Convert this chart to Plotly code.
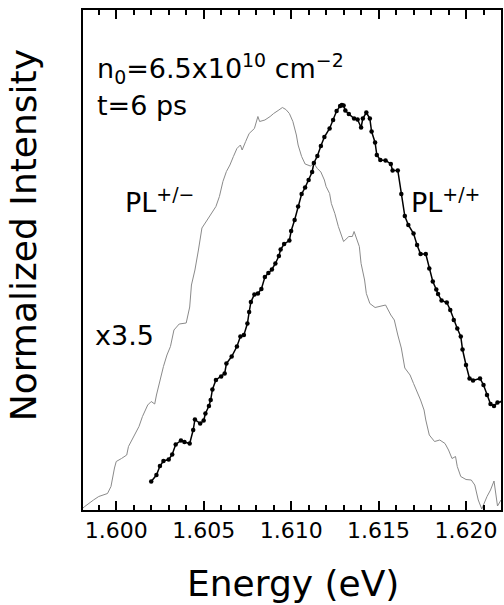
import plotly.graph_objects as go

# PL+/+ spectrum (black, with dots)
e_pp = [1.6020,1.6023,1.6025,1.6027,1.6030,1.6032,1.6034,1.6037,1.6039,1.6042,
        1.6044,1.6045,1.6048,1.6050,1.6051,1.6053,1.6054,1.6055,1.6057,1.6060,
        1.6062,1.6063,1.6066,1.6069,1.6071,1.6073,1.6075,1.6076,1.6077,1.6079,
        1.6081,1.6083,1.6085,1.6087,1.6089,1.6091,1.6093,1.6094,1.6096,1.6099,
        1.6100,1.6102,1.6104,1.6106,1.6108,1.6110,1.6112,1.6113,1.6115,1.6117,
        1.6119,1.6122,1.6124,1.6126,1.6128,1.6129,1.6130,1.6131,1.6133,1.6136,
        1.6138,1.6140,1.6141,1.6143,1.6145,1.6146,1.6148,1.6149,1.6151,1.6154,
        1.6157,1.6158,1.6161,1.6163,1.6165,1.6167,1.6170,1.6172,1.6174,1.6177,
        1.6179,1.6181,1.6183,1.6184,1.6186,1.6189,1.6191,1.6193,1.6195,1.6197,
        1.6198,1.6200,1.6202,1.6204,1.6208,1.6210,1.6212,1.6214,1.6216,1.6218,
        1.6221]
i_pp = [5.7,7.0,8.8,9.8,10.1,11.1,13.1,13.9,13.6,13.3,
        16.0,18.1,17.3,17.9,19.3,20.8,22.0,24.1,26.0,26.7,
        27.3,29.3,30.7,32.7,34.7,35.0,37.3,39.6,41.6,43.1,
        43.3,44.2,46.6,47.4,48.1,49.3,50.8,52.1,53.2,53.9,
        55.8,58.0,60.7,63.2,64.5,66.0,67.6,69.4,70.8,72.8,
        74.6,76.3,78.0,79.8,80.8,81.0,80.9,79.9,79.2,78.3,
        78.1,76.5,78.3,79.5,78.3,75.7,73.5,71.0,70.0,69.9,
        69.2,67.9,67.9,63.2,58.8,57.0,55.3,53.0,51.2,51.2,
        48.3,45.7,44.1,43.2,41.9,41.5,40.0,38.0,36.3,34.7,
        32.1,29.0,26.3,25.9,26.3,25.0,23.0,21.2,20.8,21.5,
        21.7]

# PL+/- spectrum (grey, x3.5)
e_pm = [1.5981,1.5982,1.5987,1.5990,1.5995,1.5997,1.5999,1.6000,1.6003,1.6006,
        1.6007,1.6010,1.6013,1.6015,1.6018,1.6020,1.6022,1.6023,1.6025,1.6027,
        1.6029,1.6031,1.6033,1.6036,1.6040,1.6042,1.6043,1.6045,1.6047,1.6049,
        1.6052,1.6055,1.6057,1.6059,1.6061,1.6063,1.6065,1.6067,1.6069,1.6071,
        1.6072,1.6074,1.6076,1.6079,1.6081,1.6082,1.6085,1.6088,1.6090,1.6093,
        1.6095,1.6097,1.6099,1.6101,1.6103,1.6104,1.6106,1.6108,1.6111,1.6113,
        1.6115,1.6117,1.6119,1.6120,1.6122,1.6123,1.6125,1.6127,1.6130,1.6133,
        1.6135,1.6136,1.6137,1.6139,1.6140,1.6142,1.6143,1.6145,1.6148,1.6151,
        1.6154,1.6157,1.6159,1.6161,1.6163,1.6165,1.6168,1.6170,1.6172,1.6174,
        1.6176,1.6177,1.6179,1.6182,1.6185,1.6188,1.6190,1.6192,1.6194,1.6195,
        1.6197,1.6200,1.6203,1.6205,1.6207,1.6209,1.6212,1.6214,1.6216,1.6218,
        1.6220]
i_pm = [0.4,0.7,2.0,2.7,3.3,4.7,8.4,9.7,10.3,11.0,
        12.7,14.7,16.7,18.7,21.0,21.7,21.2,23.0,26.0,28.7,
        31.0,32.7,36.0,37.2,37.4,40.6,45.0,48.0,52.0,56.4,
        58.0,59.7,60.7,62.7,65.7,67.7,69.0,70.7,72.3,73.0,
        72.0,73.7,75.3,76.3,78.7,77.7,78.0,78.7,79.3,80.0,
        80.5,80.1,79.3,77.7,75.0,73.0,70.7,69.2,68.8,69.3,
        68.3,67.6,66.0,64.7,63.3,61.3,59.3,56.7,53.7,54.7,
        54.7,55.7,54.7,52.7,49.3,46.0,43.3,41.3,40.5,40.7,
        41.0,39.0,38.0,35.0,32.4,28.4,27.0,25.3,23.8,22.0,
        20.0,18.0,15.0,13.7,14.0,13.3,12.0,10.3,10.7,8.7,
        6.7,6.1,6.0,5.0,2.0,0.2,2.7,4.0,5.8,0.8,
        2.0]

x_range = [1.5981, 1.6220]
y_range = [0, 100]
x_major = [1.600, 1.605, 1.610, 1.615, 1.620]
x_labels = ["1.600", "1.605", "1.610", "1.615", "1.620"]

FONT = "DejaVu Sans"

fig = go.Figure()
fig.add_trace(go.Scatter(x=e_pm, y=i_pm, mode="lines",
                         line=dict(color="#8a8a8a", width=1), showlegend=False))
fig.add_trace(go.Scatter(x=e_pp, y=i_pp, mode="lines+markers",
                         line=dict(color="black", width=1.5),
                         marker=dict(color="black", size=4.5), showlegend=False))

def px(xp, yp):
    return (xp - 83) / 420.0, (510 - yp) / 500.0

annots = [
    ("n<sub>0</sub>=6.5x10<sup>10</sup> cm<sup>−2</sup>", 95, 68, 27),
    ("t=6 ps", 95, 106, 27),
    ("PL<sup>+/−</sup>", 123, 200, 27),
    ("PL<sup>+/+</sup>", 411, 200, 27),
    ("x3.5", 93, 335, 27),
]
for txt, xp, yp, fs in annots:
    ax, ay = px(xp, yp)
    fig.add_annotation(text=txt, x=ax, y=ay, xref="paper", yref="paper",
                       xanchor="left", yanchor="middle", showarrow=False,
                       font=dict(family=FONT, size=fs, color="black"))

# axis titles as annotations
fig.add_annotation(text="Normalized Intensity", x=px(24, 0)[0], y=px(0, 235)[1],
                   xref="paper", yref="paper", textangle=-90, showarrow=False,
                   xanchor="center", yanchor="middle",
                   font=dict(family=FONT, size=36, color="black"))
fig.add_annotation(text="Energy (eV)", x=px(294, 0)[0], y=px(0, 583)[1],
                   xref="paper", yref="paper", showarrow=False,
                   xanchor="center", yanchor="middle",
                   font=dict(family=FONT, size=36, color="black"))

fig.update_xaxes(range=x_range, tickvals=x_major, ticktext=x_labels,
                 ticks="inside", ticklen=9, tickwidth=2, tickcolor="black",
                 minor=dict(dtick=0.001, tick0=1.600, ticks="inside", ticklen=5,
                            tickwidth=2, tickcolor="black", showgrid=False),
                 showline=True, linewidth=2, linecolor="black", mirror="ticks",
                 showgrid=False, zeroline=False,
                 tickfont=dict(family=FONT, size=22, color="black"))
fig.update_yaxes(range=y_range, showticklabels=False, ticks="",
                 showline=True, linewidth=2, linecolor="black", mirror=True,
                 showgrid=False, zeroline=False)

fig.update_layout(width=504, height=605, margin=dict(l=83, r=1, t=10, b=95),
                  paper_bgcolor="white", plot_bgcolor="white")

fig.write_html("out.html")
